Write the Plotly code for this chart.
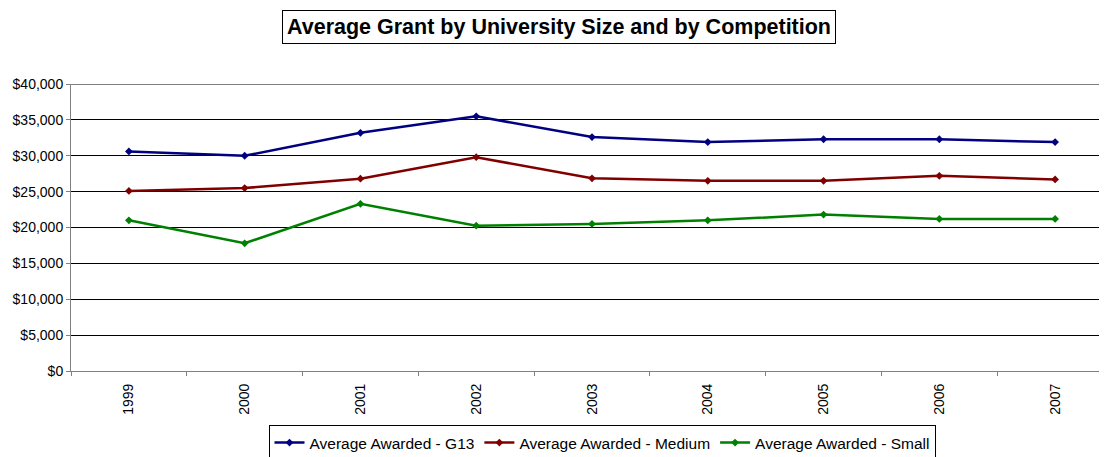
import plotly.graph_objects as go

# =========================
# DATA
# =========================
YEARS = ["1999", "2000", "2001", "2002", "2003", "2004", "2005", "2006", "2007"]

G13 = [30600, 30000, 33200, 35500, 32600, 31900, 32300, 32300, 31900]
MEDIUM = [25100, 25500, 26800, 29800, 26850, 26500, 26500, 27200, 26700]
SMALL = [21000, 17800, 23300, 20250, 20500, 21000, 21800, 21200, 21200]

SERIES = [
    ("Average Awarded - G13", G13, "#000080"),
    ("Average Awarded - Medium", MEDIUM, "#800000"),
    ("Average Awarded - Small", SMALL, "#008000"),
]

Y_TICKS = [0, 5000, 10000, 15000, 20000, 25000, 30000, 35000, 40000]
Y_LABELS = ["$0", "$5,000", "$10,000", "$15,000", "$20,000",
            "$25,000", "$30,000", "$35,000", "$40,000"]

FONT = "Arial, Liberation Sans, sans-serif"

# =========================
# FIGURE
# =========================
fig = go.Figure()

for name, values, color in SERIES:
    fig.add_trace(go.Scatter(
        x=YEARS,
        y=values,
        name=name,
        mode="lines+markers",
        line=dict(color=color, width=2.5),
        marker=dict(symbol="diamond", size=6, color=color),
    ))

# the page body adds an 8px offset, margins account for it
fig.update_layout(
    width=1107,
    height=457,
    margin=dict(l=63, r=2, t=76, b=94, autoexpand=False),
    paper_bgcolor="white",
    plot_bgcolor="white",
    font=dict(family=FONT, size=14, color="black"),
    showlegend=True,
    legend=dict(
        orientation="h",
        x=0.5096,
        xanchor="center",
        y=-0.188,
        yanchor="top",
        bordercolor="black",
        borderwidth=1,
        font=dict(size=15.5),
        itemwidth=30,
        tracegroupgap=0,
    ),
)

fig.update_xaxes(
    type="category",
    range=[-0.5, 8.5],
    tickson="boundaries",
    ticks="outside",
    ticklen=4,
    tickcolor="#808080",
    tickangle=-90,
    showline=True,
    linecolor="#808080",
    linewidth=1,
    showgrid=False,
    ticklabelstandoff=6,
    tickfont=dict(size=14),
)

fig.update_yaxes(
    range=[0, 40000],
    tickvals=Y_TICKS,
    ticktext=Y_LABELS,
    ticks="outside",
    ticklen=4,
    tickcolor="#808080",
    showline=True,
    linecolor="#808080",
    linewidth=1,
    showgrid=True,
    gridcolor="black",
    gridwidth=1,
    zeroline=False,
    ticklabelstandoff=0,
    tickfont=dict(size=14),
)

# top gridline sits on the plot edge, draw it explicitly
fig.add_hline(y=40000, line=dict(color="black", width=1))

# title in a bordered box, Excel style
fig.add_annotation(
    text="<b>Average Grant by University Size and by Competition</b>",
    xref="paper", yref="paper",
    x=0.468, y=1.197,
    xanchor="center", yanchor="middle",
    showarrow=False,
    font=dict(family=FONT, size=21.5, color="black"),
    bordercolor="black",
    borderwidth=1,
    borderpad=4,
    bgcolor="white",
)

fig.write_html("out.html")
